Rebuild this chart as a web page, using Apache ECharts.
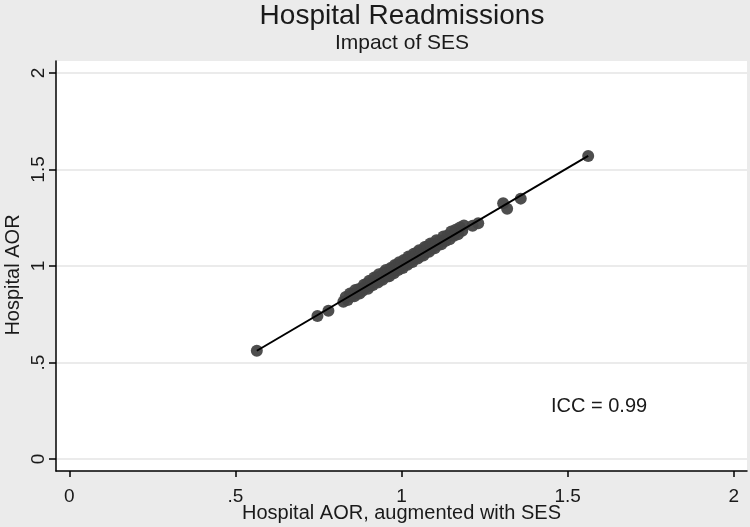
<!DOCTYPE html>
<html>
<head>
<meta charset="utf-8">
<script src="https://cdn.jsdelivr.net/npm/echarts@6/dist/echarts.min.js"></script>
<style>
  html, body { margin: 0; padding: 0; background: #ebebeb; }
  #chart { width: 750px; height: 527px; }
</style>
</head>
<body>
<div id="chart"></div>
<script>
const TICKS = [0, 0.5, 1, 1.5, 2]

// hospital AOR with SES (x) vs without (y)
const aorSes = [
  0.5645, 0.747, 0.780,
  0.825, 0.832, 0.838, 0.845, 0.848, 0.852, 0.858, 0.861, 0.866, 0.870, 0.874, 0.879,
  0.883, 0.887, 0.892, 0.896, 0.899, 0.903, 0.907, 0.910, 0.914, 0.918, 0.921, 0.925,
  0.929, 0.932, 0.936, 0.940, 0.943, 0.947, 0.950, 0.953, 0.957, 0.960, 0.963, 0.967,
  0.970, 0.973, 0.977, 0.980, 0.983, 0.987, 0.990, 0.993, 0.997, 1.000, 1.004, 1.007,
  1.011, 1.014, 1.018, 1.021, 1.025, 1.029, 1.033, 1.037, 1.041, 1.045, 1.049, 1.053,
  1.057, 1.061, 1.066, 1.070, 1.074, 1.078, 1.083, 1.087, 1.091, 1.096, 1.100, 1.105,
  1.110, 1.115, 1.120, 1.126, 1.132, 1.138, 1.145, 1.150, 1.158, 1.163, 1.170, 1.176,
  1.183, 1.188,
  1.214, 1.231, 1.306, 1.318, 1.359, 1.562
]
const aor = [
  0.561, 0.741, 0.768,
  0.815, 0.840, 0.824, 0.857, 0.842, 0.856, 0.843, 0.876, 0.858, 0.880, 0.858, 0.885,
  0.872, 0.903, 0.888, 0.908, 0.882, 0.923, 0.898, 0.918, 0.901, 0.941, 0.917, 0.940,
  0.914, 0.957, 0.929, 0.951, 0.929, 0.967, 0.947, 0.979, 0.945, 0.969, 0.947, 0.989,
  0.964, 0.987, 0.963, 1.005, 0.981, 1.005, 0.979, 1.020, 0.990, 1.014, 0.990, 1.031,
  1.008, 1.031, 1.007, 1.049, 1.018, 1.049, 1.021, 1.064, 1.039, 1.067, 1.039, 1.082,
  1.052, 1.080, 1.054, 1.099, 1.071, 1.102, 1.074, 1.117, 1.089, 1.117, 1.092, 1.133,
  1.109, 1.132, 1.113, 1.153, 1.129, 1.158, 1.139, 1.179, 1.157, 1.188, 1.165, 1.200,
  1.182, 1.210,
  1.209, 1.221, 1.325, 1.297, 1.349, 1.570
]
// fitted line end points
const fitX = [0.5645, 1.562]
const fitY = [0.561, 1.570]

const FONT = 'Liberation Sans, Arial, sans-serif'
const INK = '#1a1a1a'
const fmt = v => v === 0 ? '0' : String(v).replace(/^0\./, '.')

const chart = echarts.init(document.getElementById('chart'), null, { renderer: 'canvas' })
chart.setOption({
  animation: false,
  backgroundColor: '#ebebeb',
  title: {
    text: 'Hospital Readmissions',
    subtext: 'Impact of SES',
    left: 402, top: 0, textAlign: 'center',
    padding: [2, 0, 0, 0],
    itemGap: 3,
    textStyle: { color: INK, fontFamily: FONT, fontSize: 28, fontWeight: 'normal' },
    subtextStyle: { color: INK, fontFamily: FONT, fontSize: 21 },
  },
  grid: {
    left: 56, right: 3, top: 61, bottom: 56,
    outerBoundsMode: 'none', containLabel: false,
    show: true, backgroundColor: '#fff', borderWidth: 0,
  },
  xAxis: {
    type: 'value', min: -0.04, max: 2.04,
    name: 'Hospital AOR, augmented with SES', nameLocation: 'middle', nameGap: 32,
    nameMoveOverlap: false,
    nameTextStyle: { color: INK, fontFamily: FONT, fontSize: 20 },
    axisLine: { onZero: false, lineStyle: { color: '#000', width: 1.5 } },
    axisTick: { customValues: TICKS, length: 6, lineStyle: { color: '#000', width: 1.5 } },
    axisLabel: { customValues: TICKS, formatter: fmt, margin: 16, color: INK, fontFamily: FONT, fontSize: 19 },
    splitLine: { show: false },
  },
  yAxis: {
    type: 'value', min: -0.062, max: 2.062,
    name: 'Hospital AOR', nameLocation: 'middle', nameGap: 33,
    nameMoveOverlap: false,
    nameTextStyle: { color: INK, fontFamily: FONT, fontSize: 20, padding: [0, 18, 0, 0] },
    axisLine: { show: true, onZero: false, lineStyle: { color: '#000', width: 1.5 } },
    axisTick: { show: true, customValues: TICKS, length: 7, lineStyle: { color: '#000', width: 1.5 } },
    axisLabel: { customValues: TICKS, formatter: fmt, rotate: 90, margin: 8, color: INK, fontFamily: FONT, fontSize: 19 },
    splitLine: { show: true, lineStyle: { color: '#e4e4e4', width: 1.5 } },
  },
  graphic: [{
    type: 'text', left: 551, top: 396,
    style: { text: 'ICC = 0.99', fill: INK, font: `20px ${FONT}` },
  }],
  series: [
    {
      type: 'scatter', data: aorSes.map((x, i) => [x, aor[i]]),
      symbolSize: 12,
      itemStyle: { color: '#444', opacity: 0.95 },
      z: 2,
    },
    {
      type: 'line', data: fitX.map((x, i) => [x, fitY[i]]),
      symbol: 'none',
      lineStyle: { color: '#000', width: 2 },
      z: 3,
    },
  ],
})
</script>
</body>
</html>
